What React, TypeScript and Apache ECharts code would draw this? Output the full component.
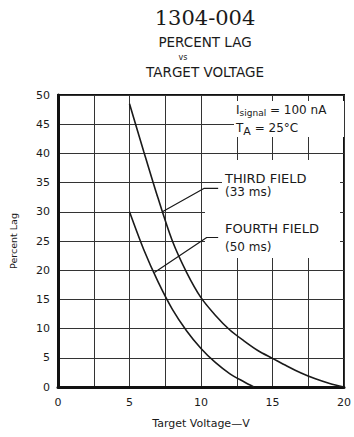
import React, { useEffect, useRef } from "react";
import * as echarts from "echarts";

const xTicks = [0, 5, 10, 15, 20];
const yTicks = [0, 5, 10, 15, 20, 25, 30, 35, 40, 45, 50];

const thirdField: [number, number][] = [
  [5, 48.5], [6, 40.3], [7, 32.3], [8, 25], [9, 19.6], [10, 15.3], [11, 12.3],
  [12, 9.8], [13, 7.9], [14, 6.2], [15, 4.9], [16, 3.6], [17, 2.4], [18, 1.4],
  [19, 0.6], [20, 0],
];
const fourthField: [number, number][] = [
  [5, 30], [6, 23.5], [7, 18], [8, 13.3], [9, 9.6], [10, 6.6], [11, 4.2],
  [12, 2.3], [13, 0.9], [13.7, 0],
];
const thirdLeader: [number, number][] = [[7.3, 30], [10.2, 34], [11.2, 34]];
const fourthLeader: [number, number][] = [[6.74, 19.6], [10.4, 25.6], [11.2, 25.6]];

const SANS = "DejaVu Sans";

export default function App() {
  const ref = useRef<HTMLDivElement>(null);
  useEffect(() => {
    if (!ref.current) return;
    const chart = echarts.init(ref.current, undefined, { renderer: "svg" });
    const curve = (name: string, data: [number, number][], smooth: number | boolean) => ({
      name,
      type: "line",
      data,
      smooth,
      showSymbol: false,
      symbol: "none",
      z: 3,
      lineStyle: { color: "#1a1a1a", width: 1.6 },
    });
    const lbl = (text: string, x: number, y: number, size = 13) => ({
      type: "text",
      x,
      y,
      z: 5,
      style: { text, fill: "#1a1a1a", font: `${size}px "${SANS}"`, textVerticalAlign: "middle" },
    });
    chart.setOption({
      animation: false,
      backgroundColor: "#fff",
      grid: {
        left: 58, right: 8, top: 95, bottom: 50,
        show: true, borderColor: "#111", borderWidth: 2, backgroundColor: "transparent",
      },
      xAxis: {
        type: "value", min: 0, max: 20, interval: 2.5,
        name: "Target Voltage\u2014V", nameLocation: "middle", nameGap: 31,
        nameTextStyle: { fontFamily: SANS, fontSize: 11, color: "#1a1a1a" },
        axisLine: { show: true, lineStyle: { color: "#111", width: 3 } },
        axisTick: { show: false },
        splitLine: { show: true, lineStyle: { color: "#333", width: 1 } },
        axisLabel: {
          fontFamily: SANS, fontSize: 11, color: "#1a1a1a", margin: 10,
          formatter: (v: number) => (xTicks.includes(v) ? String(v) : ""),
        },
      },
      yAxis: {
        type: "value", min: 0, max: 50, interval: 5,
        name: "Percent Lag", nameLocation: "middle", nameGap: 40, nameRotate: 90,
        nameTextStyle: { fontFamily: SANS, fontSize: 9.5, color: "#1a1a1a" },
        axisLine: { show: true, lineStyle: { color: "#111", width: 3 } },
        axisTick: { show: false },
        splitLine: { show: true, lineStyle: { color: "#333", width: 1 } },
        axisLabel: {
          fontFamily: SANS, fontSize: 11, color: "#1a1a1a", margin: 8,
          formatter: (v: number) => (yTicks.includes(v) ? String(v) : ""),
        },
      },
      graphic: [
        { type: "rect", z: 1, shape: { x: 234, y: 101, width: 110, height: 36 }, style: { fill: "#fff" } },
        { type: "rect", z: 1, shape: { x: 222, y: 160, width: 118, height: 98 }, style: { fill: "#fff" } },
        { type: "rect", z: 1, shape: { x: 205, y: 205, width: 18, height: 40 }, style: { fill: "#fff" } },
        {
          type: "text", x: 205, y: 18, z: 5,
          style: { text: "1304-004", fill: "#1a1a1a", font: '21px "DejaVu Serif"', textAlign: "center", textVerticalAlign: "middle" },
        },
        { type: "text", x: 205, y: 42, z: 5, style: { text: "PERCENT LAG", fill: "#1a1a1a", font: `13.5px "${SANS}"`, textAlign: "center", textVerticalAlign: "middle" } },
        { type: "text", x: 183, y: 57, z: 5, style: { text: "vs", fill: "#1a1a1a", font: `8px "${SANS}"`, textAlign: "center", textVerticalAlign: "middle" } },
        { type: "text", x: 205, y: 72, z: 5, style: { text: "TARGET VOLTAGE", fill: "#1a1a1a", font: `13.5px "${SANS}"`, textAlign: "center", textVerticalAlign: "middle" } },
        {
          type: "text", x: 236, y: 110, z: 5,
          style: {
            text: "{a|I}{s|signal}{a| = 100 nA}",
            textVerticalAlign: "middle",
            rich: {
              a: { fontFamily: SANS, fontSize: 12, fill: "#1a1a1a", color: "#1a1a1a" },
              s: { fontFamily: SANS, fontSize: 9, fill: "#1a1a1a", color: "#1a1a1a", padding: [6, 0, 0, 0] },
            },
          },
        },
        {
          type: "text", x: 236, y: 128, z: 5,
          style: {
            text: "{a|T}{s|A}{a| = 25\u00b0C}",
            textVerticalAlign: "middle",
            rich: {
              a: { fontFamily: SANS, fontSize: 12, fill: "#1a1a1a", color: "#1a1a1a" },
              s: { fontFamily: SANS, fontSize: 11, fill: "#1a1a1a", color: "#1a1a1a", padding: [6, 0, 0, 0] },
            },
          },
        },
        lbl("THIRD FIELD", 225, 178),
        lbl("(33 ms)", 225, 192, 12),
        lbl("FOURTH FIELD", 225, 228),
        lbl("(50 ms)", 225, 247, 12),
      ],
      series: [
        curve("Third field (33 ms)", thirdField, 0.3),
        curve("Fourth field (50 ms)", fourthField, 0.3),
        { ...curve("third leader", thirdLeader, false), lineStyle: { color: "#1a1a1a", width: 1.2 } },
        { ...curve("fourth leader", fourthLeader, false), lineStyle: { color: "#1a1a1a", width: 1.2 } },
      ],
    });
    return () => chart.dispose();
  }, []);
  return <div ref={ref} style={{ width: 354, height: 437, position: "absolute", left: 0, top: 0 }} />;
}
